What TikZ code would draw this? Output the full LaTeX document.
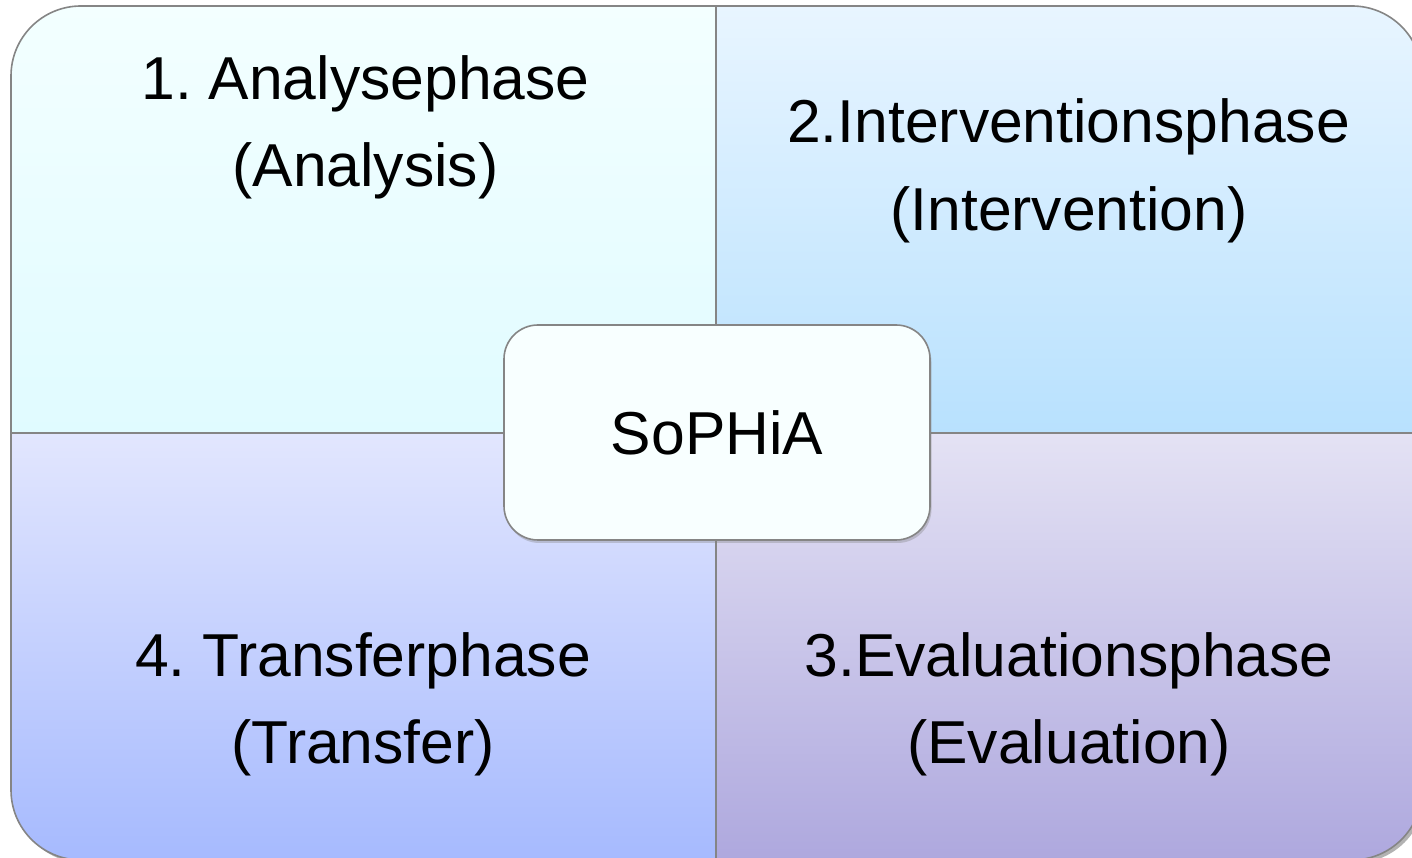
\documentclass[tikz,border=0pt]{standalone}
\usepackage{fontspec}
\setmainfont{Liberation Sans}
\usetikzlibrary{shadows}
\frenchspacing
\definecolor{tlTop}{HTML}{F3FFFF}
\definecolor{tlBot}{HTML}{E0FBFF}
\definecolor{trTop}{HTML}{E8F5FF}
\definecolor{trBot}{HTML}{B8E1FE}
\definecolor{blTop}{HTML}{E2E6FE}
\definecolor{blBot}{HTML}{A6BAFE}
\definecolor{brTop}{HTML}{E4E2F4}
\definecolor{brBot}{HTML}{AEA8DE}
\definecolor{edge}{HTML}{858585}
\definecolor{centerFill}{HTML}{F8FFFF}
\begin{document}
\begin{tikzpicture}[x=1pt,y=1pt,
  quad/.style={draw=edge, line width=1.6pt},
  lbl/.style={anchor=base, inner sep=0pt, font=\fontsize{60.6}{72}\selectfont},
  hub/.style={draw=edge, line width=1.6pt, fill=centerFill, rounded corners=34pt,
    minimum width=426pt, minimum height=215pt, inner sep=0pt,
    drop shadow={shadow xshift=1.5pt, shadow yshift=-3pt, opacity=0.35},
    font=\fontsize{60.6}{72}\selectfont}]
\useasboundingbox (0,0) rectangle (1412,858);
\clip (0,0) rectangle (1412,858);
% shadow of outer frame
\fill[black, opacity=0.3, rounded corners=70pt] (14,-5) rectangle (1425,849);
% quadrants
\path[quad, top color=tlTop, bottom color=tlBot]
  (716,425) -- (11,425) -- (11,782) arc[start angle=180, end angle=90, radius=70pt] -- (716,852) -- cycle;
\path[quad, top color=trTop, bottom color=trBot]
  (716,425) -- (716,852) -- (1352,852) arc[start angle=90, end angle=0, radius=70pt] -- (1422,425) -- cycle;
\path[quad, top color=blTop, bottom color=blBot]
  (716,425) -- (11,425) -- (11,68) arc[start angle=180, end angle=270, radius=70pt] -- (716,-2) -- cycle;
\path[quad, top color=brTop, bottom color=brBot]
  (716,425) -- (1422,425) -- (1422,68) arc[start angle=0, end angle=-90, radius=70pt] -- (716,-2) -- cycle;
% labels
\node[lbl] (q1a) at (365.5,758) {1. Analysephase};
\node[lbl] (q1b) at (365.5,671) {(Analysis)};
\node[lbl] (q2a) at (1068.5,715) {2.Interventionsphase};
\node[lbl] (q2b) at (1069,627) {(Intervention)};
\node[lbl] (q4a) at (363,181) {4. Transferphase};
\node[lbl] (q4b) at (363,94) {(Transfer)};
\node[lbl] (q3a) at (1069,181) {3.Evaluationsphase};
\node[lbl] (q3b) at (1069,94) {(Evaluation)};
% center
\node[hub] (hub) at (717,425.5) {SoPHiA};
\end{tikzpicture}
\end{document}
